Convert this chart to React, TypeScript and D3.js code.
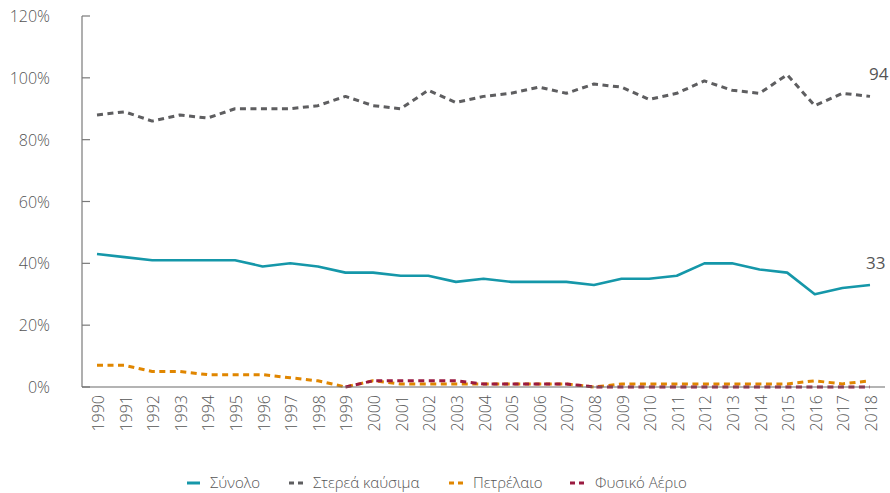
import React from "react";
import * as d3 from "d3";

const years = [1990,1991,1992,1993,1994,1995,1996,1997,1998,1999,2000,2001,2002,2003,2004,2005,2006,2007,2008,2009,2010,2011,2012,2013,2014,2015,2016,2017,2018];
const total = [43,42,41,41,41,41,39,40,39,37,37,36,36,34,35,34,34,34,33,35,35,36,40,40,38,37,30,32,33];
const solid = [88,89,86,88,87,90,90,90,91,94,91,90,96,92,94,95,97,95,98,97,93,95,99,96,95,101,91,95,94];
const oil = [7,7,5,5,4,4,4,3,2,0,2,1,1,1,1,1,1,1,0,1,1,1,1,1,1,1,2,1,2];
const gas: (number | null)[] = [null,null,null,null,null,null,null,null,null,0,2,2,2,2,1,1,1,1,0,0,0,0,0,0,0,0,0,0,0];
const yTicks = [0,20,40,60,80,100,120];

const seriesDefs = [
  { name: "Σύνολο", values: total, color: "#1597a9", dash: "none", width: 2.6 },
  { name: "Στερεά καύσιμα", values: solid, color: "#5e5e60", dash: "6,4.5", width: 3 },
  { name: "Πετρέλαιο", values: oil, color: "#e08600", dash: "6,4.5", width: 3 },
  { name: "Φυσικό Αέριο", values: gas, color: "#9a1a40", dash: "6,4.5", width: 3 },
];

const FONT = "'Open Sans', Lato, sans-serif";

export default function App() {
  const W = 890, H = 493;
  const x = d3.scaleLinear().domain([1990, 2018]).range([97, 870]);
  const y = d3.scaleLinear().domain([0, 120]).range([387, 16]);
  const line = d3.line<[number, number | null]>()
    .defined(d => d[1] != null)
    .x(d => x(d[0]))
    .y(d => y(d[1] as number));

  const legendItems = [
    { x: 187, tx: 210 },
    { x: 289, tx: 313 },
    { x: 449, tx: 473 },
    { x: 570, tx: 595 },
  ];
  const LY = 482;

  return (
    <svg width={W} height={H} style={{ position: "absolute", left: 0, top: 0, fontFamily: FONT }}>
      <rect width={W} height={H} fill="#fff" />
      {/* y axis */}
      <line x1={82} x2={82} y1={y(120)} y2={y(0)} stroke="#7a7a7a" strokeWidth={1.2} />
      {yTicks.map(t => (
        <g key={t}>
          <line x1={82} x2={90} y1={y(t)} y2={y(t)} stroke="#7a7a7a" strokeWidth={1.2} />
          <text x={50} y={y(t)} textAnchor="end" dominantBaseline="central" fontSize={16} fill="#555" fontWeight={300}>{t}%</text>
        </g>
      ))}
      {/* x labels */}
      {years.map(yr => (
        <text key={yr} transform={`translate(${x(yr) + 1},${395}) rotate(-90)`} textAnchor="end" dominantBaseline="central" fontSize={16} fill="#555" fontWeight={300}>{yr}</text>
      ))}
      {/* lines */}
      {seriesDefs.map(s => (
        <path key={s.name}
          d={line(years.map((yr, i) => [yr, s.values[i]] as [number, number | null])) || ""}
          fill="none" stroke={s.color} strokeWidth={s.width} strokeDasharray={s.dash === "none" ? undefined : s.dash} strokeLinejoin="round" />
      ))}
      {/* x axis */}
      <line x1={82} x2={885} y1={y(0)} y2={y(0)} stroke="#6a6a6a" strokeWidth={1.2} />
      {/* end labels */}
      <text x={869} y={y(solid[solid.length - 1]) - 16} fontSize={17} fill="#555" fontWeight={500}>{solid[solid.length - 1]}</text>
      <text x={866} y={y(total[total.length - 1]) - 16} fontSize={17} fill="#555" fontWeight={500}>{total[total.length - 1]}</text>
      {/* legend */}
      {seriesDefs.map((s, i) => (
        <g key={s.name}>
          {s.dash === "none" ? (
            <line x1={legendItems[i].x} x2={legendItems[i].x + 13} y1={LY + 1} y2={LY + 1} stroke={s.color} strokeWidth={3} />
          ) : (
            <line x1={legendItems[i].x} x2={legendItems[i].x + 14} y1={LY + 1} y2={LY + 1} stroke={s.color} strokeWidth={3} strokeDasharray="5,4" />
          )}
          <text x={legendItems[i].tx} y={LY} dominantBaseline="central" fontSize={15} fill="#555" fontWeight={300}>{s.name}</text>
        </g>
      ))}
    </svg>
  );
}
